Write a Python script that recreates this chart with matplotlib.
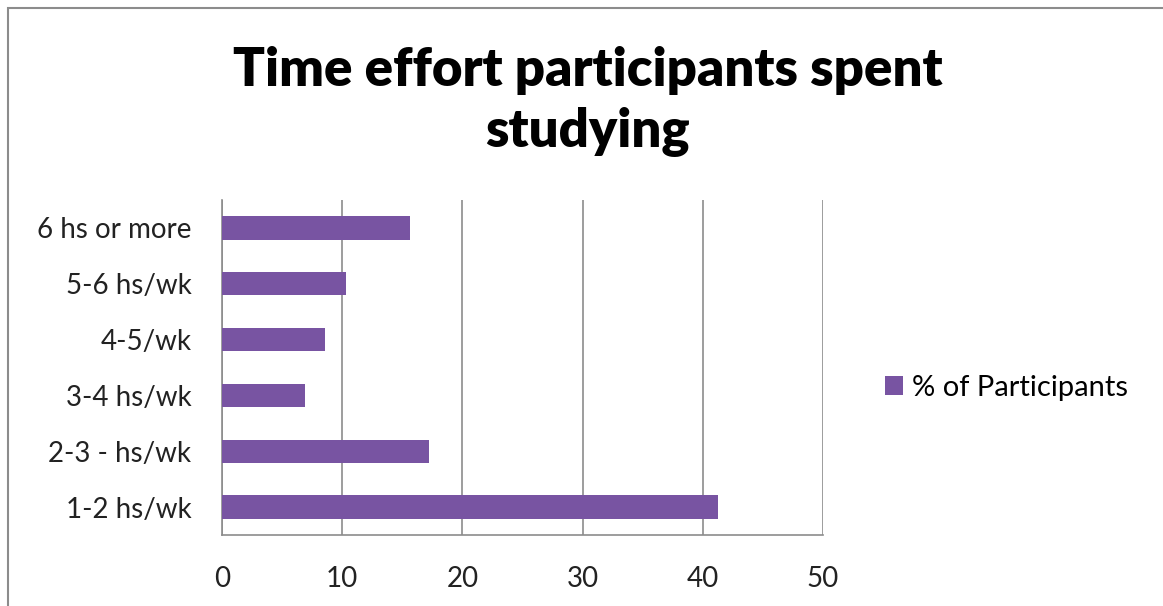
import matplotlib.pyplot as plt
from matplotlib.patches import Rectangle

categories = ["1-2 hs/wk", "2-3 - hs/wk", "3-4 hs/wk", "4-5/wk", "5-6 hs/wk", "6 hs or more"]
participants = [41.3, 17.2, 6.9, 8.6, 10.3, 15.6]
xticks = [0, 10, 20, 30, 40, 50]

plt.rcParams['font.family'] = ['Lato', 'DejaVu Sans']

fig = plt.figure(figsize=(11.63, 6.06), dpi=100)
ax = fig.add_axes([0.1909, 0.1172, 0.5168, 0.5528])

# outer chart border
fig.patches.append(Rectangle((8 / 1163, -0.01), 1.1, 1 - 8 / 606 + 0.01,
                             transform=fig.transFigure, fill=False,
                             edgecolor='#8c8c8c', linewidth=1.5))

ax.barh(categories, participants, height=0.42, color='#7854A2',
        label='% of Participants', zorder=3)

ax.set_xlim(0, 50)
ax.set_ylim(-0.5, len(categories) - 0.5)
ax.set_xticks(xticks)
ax.grid(axis='x', color='#8c8c8c', linewidth=1.2, zorder=0)
for side in ['top', 'right']:
    ax.spines[side].set_visible(False)
for side in ['left', 'bottom']:
    ax.spines[side].set_color('#8c8c8c')
    ax.spines[side].set_linewidth(1.2)
ax.tick_params(length=0, labelsize=20, colors='#222222', pad=22)
ax.tick_params(axis='x', pad=22)

fig.text(0.505, 0.833, "Time effort participants spent\nstudying", ha='center', va='center',
         fontsize=38, fontweight='heavy', linespacing=1.3)

ax.legend(loc='center left', bbox_to_anchor=(1.06, 0.44), frameon=False,
          fontsize=21, handlelength=0.6, handleheight=0.6, handletextpad=0.3)

fig.savefig('out.png', dpi=100)
